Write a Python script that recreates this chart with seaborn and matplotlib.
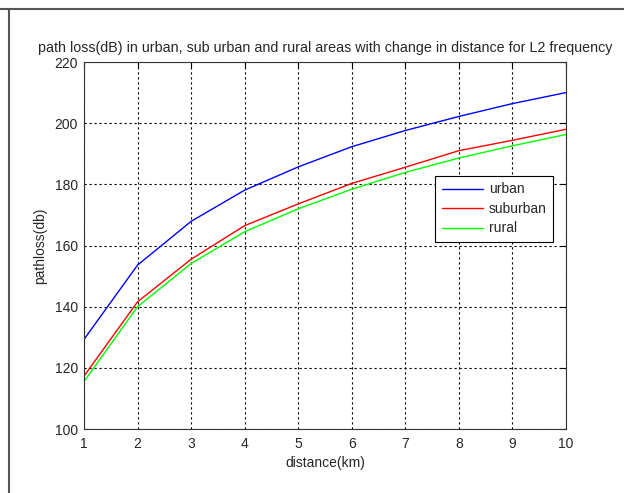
import matplotlib
matplotlib.use("Agg")
import matplotlib.pyplot as plt
from matplotlib.lines import Line2D
import seaborn as sns
import pandas as pd

distance = [1, 2, 3, 4, 5, 6, 7, 8, 9, 10]
urban = [129.3, 153.6, 167.9, 178.1, 185.7, 192.3, 197.6, 202.2, 206.4, 210.0]
suburban = [117.3, 141.6, 155.5, 166.5, 173.6, 180.3, 185.6, 191.0, 194.4, 198.0]
rural = [115.5, 140.0, 154.1, 164.5, 172.0, 178.4, 183.9, 188.6, 192.6, 196.3]
series_names = ["urban", "suburban", "rural"]
colors = ["#0000ff", "#ff0000", "#00ff00"]
xticks = [1, 2, 3, 4, 5, 6, 7, 8, 9, 10]
yticks = [100, 120, 140, 160, 180, 200, 220]

df = pd.DataFrame({
    "distance": distance * 3,
    "pathloss": urban + suburban + rural,
    "area": [series_names[0]] * 10 + [series_names[1]] * 10 + [series_names[2]] * 10,
})

sns.set_style("white")
plt.rcParams["font.family"] = ["Liberation Sans", "DejaVu Sans"]
plt.rcParams["font.size"] = 10

fig = plt.figure(figsize=(6.24, 4.93), dpi=100)
ax = fig.add_axes([84 / 624, 1 - 429 / 493, (566 - 84) / 624, (429 - 62) / 493])

sns.lineplot(data=df, x="distance", y="pathloss", hue="area", hue_order=series_names,
             palette=colors, linewidth=1.0, ax=ax, legend=True)

ax.set_xlim(1, 10)
ax.set_ylim(100, 220)
ax.set_xticks(xticks)
ax.set_yticks(yticks)
ax.grid(True, color="black", linestyle=(0, (2, 2.5)), linewidth=0.8)
ax.tick_params(axis="x", direction="in", top=True, length=4, labelsize=10,
               color="black", pad=5.5)
ax.tick_params(axis="y", direction="in", right=True, length=4, labelsize=10,
               color="black", pad=4.3)
for s in ax.spines.values():
    s.set_color("#333333")
    s.set_linewidth(0.8)

ax.set_xlabel("distance(km)", fontsize=10, labelpad=4)
ax.set_ylabel("pathloss(db)", fontsize=10, labelpad=5)
ax.set_title("path loss(dB) in urban, sub urban and rural areas with change in distance for L2 frequency",
             fontsize=10.3, pad=7)

leg = ax.legend(loc="upper right", bbox_to_anchor=(0.973, 0.689), borderaxespad=0,
                frameon=True, fancybox=False, fontsize=10, handlelength=3.0,
                labelspacing=0.4, borderpad=0.45, handletextpad=0.4)
leg.get_frame().set_edgecolor("black")
leg.get_frame().set_linewidth(0.8)
leg.get_frame().set_alpha(1)

# window border lines
fig.add_artist(Line2D([0, 1], [1 - 9 / 493, 1 - 9 / 493], transform=fig.transFigure,
                      color="#555555", linewidth=1.5))
fig.add_artist(Line2D([9 / 624, 9 / 624], [0, 1 - 9 / 493], transform=fig.transFigure,
                      color="#555555", linewidth=1.5))

fig.savefig("out.png", dpi=100, facecolor="white")
